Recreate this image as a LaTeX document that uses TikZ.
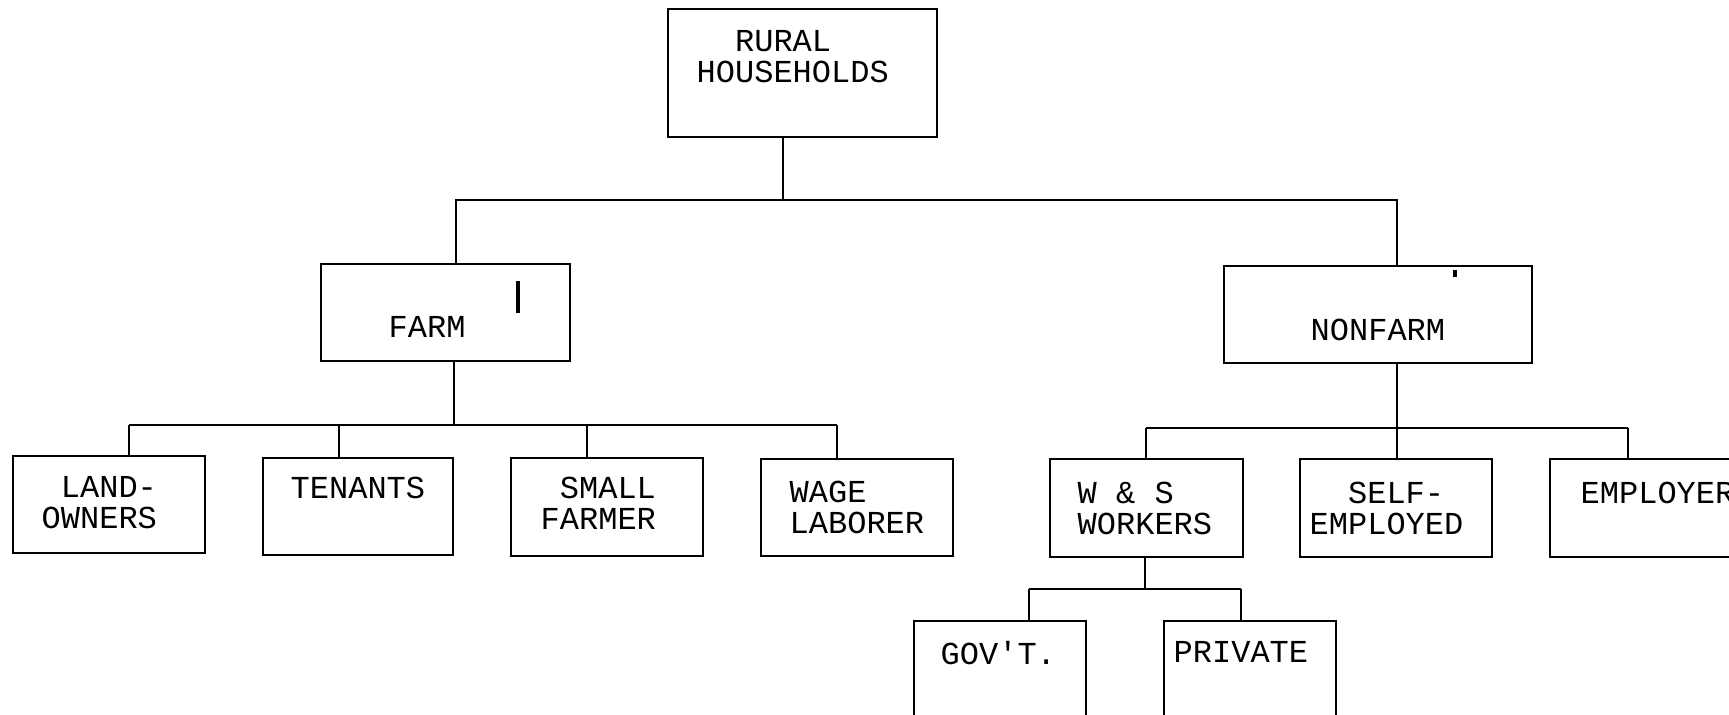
\documentclass[tikz,border=0pt]{standalone}
\usepackage{fontspec}
\setmonofont{Liberation Mono}
\usetikzlibrary{calc}
\tikzset{
  box/.style={draw,line width=0.65pt,rectangle,inner sep=0pt},
  lbl/.style={anchor=north west,inner sep=0pt,align=left,font=\ttfamily\fontsize{9.1pt}{8.8pt}\selectfont},
  wire/.style={line width=0.65pt}
}

\begin{document}
\begin{tikzpicture}[x=0.01cm,y=-0.01cm]
      \useasboundingbox (0,0) rectangle (1729,715); % page frame

      % boxes
      \node[box,minimum width=2.69cm,minimum height=1.28cm] (rural) at (802.5,73) {}; % top
      \node[box,minimum width=2.49cm,minimum height=0.97cm] (farm) at (445.5,312.5) {}; % farm
      \node[box,minimum width=3.08cm,minimum height=0.97cm] (nonfarm) at (1378,314.5) {}; % nonfarm
      \node[box,minimum width=1.92cm,minimum height=0.97cm] (land) at (109,504.5) {};
      \node[box,minimum width=1.90cm,minimum height=0.97cm] (tenants) at (358,506.5) {};
      \node[box,minimum width=1.92cm,minimum height=0.98cm] (small) at (607,507) {};
      \node[box,minimum width=1.92cm,minimum height=0.97cm] (wage) at (857,507.5) {};
      \node[box,minimum width=1.93cm,minimum height=0.98cm] (ws) at (1146.5,508) {};
      \node[box,minimum width=1.92cm,minimum height=0.98cm] (self) at (1396,508) {};
      \node[box,minimum width=1.92cm,minimum height=0.98cm] (employer) at (1646,508) {}; % runs off the page
      \node[box,minimum width=1.72cm,minimum height=0.97cm] (gov) at (1000,669.5) {};
      \node[box,minimum width=1.72cm,minimum height=0.97cm] (private) at (1250,669.5) {};

      % labels
      \node[lbl] (rural-t) at (696,30) {\hphantom{XX}RURAL\\HOUSEHOLDS};
      \node[lbl] (farm-t) at (388,316) {FARM};
      \node[lbl] (nonfarm-t) at (1310,318) {NONFARM};
      \node[lbl] (land-t) at (41,476) {\hphantom{X}LAND-\\OWNERS};
      \node[lbl] (tenants-t) at (290,476) {TENANTS};
      \node[lbl] (small-t) at (540,476) {\hphantom{X}SMALL\\FARMER};
      \node[lbl] (wage-t) at (789,480) {WAGE\\LABORER};
      \node[lbl] (ws-t) at (1077,481) {W \& S\\WORKERS};
      \node[lbl] (self-t) at (1309,481) {\hphantom{XX}SELF-\\EMPLOYED};
      \node[lbl] (employer-t) at (1580,481) {EMPLOYER};
      \node[lbl] (gov-t) at (940,641) {GOV'T.};
      \node[lbl] (private-t) at (1173,641) {PRIVATE};

      % junctions
      \coordinate (j1) at (783,200); % under rural
      \coordinate (fj) at (454,425); % under farm
      \coordinate (nj) at (1397,428); % under nonfarm
      \coordinate (wj) at (1145,589); % under W & S

      % wiring
      \draw[wire] (rural.south -| j1) -- (j1);
      \draw[wire] (farm.north -| 456,0) |- (j1 -| 1397,0) -- (nonfarm.north -| 1397,0);

      \draw[wire] (farm.south -| fj) -- (fj);
      \draw[wire] (fj -| 129,0) -- (fj -| 837,0);
      \foreach \b/\x in {land/129,tenants/339,small/587,wage/837}
        \draw[wire] (fj -| \x,0) -- (\b.north -| \x,0);

      \draw[wire] (nonfarm.south -| nj) -- (nj);
      \draw[wire] (nj -| 1146,0) -- (nj -| 1628,0);
      \foreach \b/\x in {ws/1146,self/1397,employer/1628}
        \draw[wire] (nj -| \x,0) -- (\b.north -| \x,0);

      \draw[wire] (ws.south -| wj) -- (wj);
      \draw[wire] (wj -| 1029,0) -- (wj -| 1241,0);
      \foreach \b/\x in {gov/1029,private/1241}
        \draw[wire] (wj -| \x,0) -- (\b.north -| \x,0);

      % stray marks
      \draw[line width=1.1pt] (518,281) -- (518,313); % bar in farm box
      \draw[line width=1.1pt] (1455,270) -- (1455,277); % tick in nonfarm box
\end{tikzpicture}
\end{document}
